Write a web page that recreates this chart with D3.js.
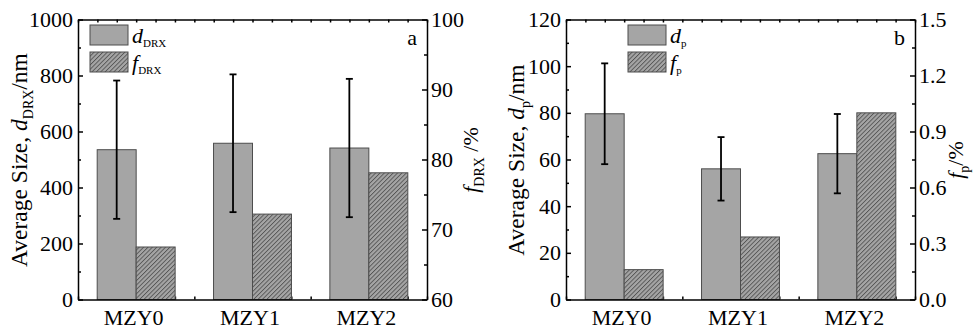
<!DOCTYPE html>
<html>
<head>
<meta charset="utf-8">
<script src="https://cdn.jsdelivr.net/npm/d3@7/dist/d3.min.js"></script>
<style>
  body { margin: 0; background: #fff; }
  svg { display: block; }
</style>
</head>
<body>
<svg id="chart" width="974" height="329"></svg>
<script>
const categories = ["MZY0", "MZY1", "MZY2"]

// panel a: DRX grains
const dDRX = [535, 558, 541]
const dDRXErr = [247, 246, 247]
const fDRX = [67.5, 72.2, 78.1]
const leftTicksA = [0, 200, 400, 600, 800, 1000]
const rightTicksA = [60, 70, 80, 90, 100]

// panel b: precipitates
const dP = [79.6, 56, 62.5]
const dPErr = [21.6, 13.6, 17]
const fP = [0.16, 0.335, 1.0]
const leftTicksB = [0, 20, 40, 60, 80, 100, 120]
const rightTicksB = [0, 0.3, 0.6, 0.9, 1.2, 1.5]

const FONT = "'Liberation Serif', 'Times New Roman', serif"
const svg = d3.select("#chart")
const plotTop = 19.5, plotBottom = 299.5
const barW = 0.335 // in category units
const grey = "#a5a5a5", edge = "#4d4d4d"

const defs = svg.append("defs")
defs.append("pattern")
  .attr("id", "hatch")
  .attr("patternUnits", "userSpaceOnUse")
  .attr("width", 3.1).attr("height", 3.1)
  .attr("patternTransform", "rotate(45)")
  .call(p => {
    p.append("rect").attr("width", 3.1).attr("height", 3.1).attr("fill", grey)
    p.append("line").attr("x1", 0.5).attr("y1", 0).attr("x2", 0.5).attr("y2", 3.1)
      .attr("stroke", "#333").attr("stroke-width", 0.65)
  })

function midpoints(arr) {
  return arr.slice(1).map((v, i) => (v + arr[i]) / 2)
}

function rich(sel, parts, subSize, shift) {
  parts.forEach(p => {
    const t = sel.append("tspan").text(p.t)
    if (p.i) t.attr("font-style", "italic")
    if (p.sub) t.attr("font-size", subSize).attr("dy", shift)
    if (p.after) t.attr("dy", -shift)
  })
}

function drawPanel(cfg) {
  const g = svg.append("g")
  const x = d3.scaleLinear().domain([0.5, 3.5]).range([cfg.left, cfg.right])
  const yL = d3.scaleLinear().domain(d3.extent(cfg.leftTicks)).range([plotBottom, plotTop])
  const yR = d3.scaleLinear().domain(d3.extent(cfg.rightTicks)).range([plotBottom, plotTop])
  const grid = d3.range(19).map(k => 0.5 + k / 6)

  // bottom small ticks (bars sit on top of them)
  g.append("g").attr("transform", `translate(0,${plotBottom})`)
    .call(d3.axisBottom(x).tickValues(grid).tickSize(-3).tickSizeOuter(0).tickFormat(""))
    .call(a => a.select(".domain").remove())
    .call(a => a.selectAll("line").attr("stroke", "#000").attr("stroke-width", 1.5))

  const idx = d3.range(categories.length)

  g.selectAll(".dbar").data(idx).enter().append("rect")
    .attr("x", i => x(i + 1 - barW))
    .attr("width", x(1) - x(1 - barW))
    .attr("y", i => yL(cfg.d[i]))
    .attr("height", i => plotBottom - yL(cfg.d[i]))
    .attr("fill", grey).attr("stroke", edge).attr("stroke-width", 1)

  g.selectAll(".fbar").data(idx).enter().append("rect")
    .attr("x", i => x(i + 1))
    .attr("width", x(1 + barW) - x(1))
    .attr("y", i => yR(cfg.f[i]))
    .attr("height", i => plotBottom - yR(cfg.f[i]))
    .attr("fill", "url(#hatch)").attr("stroke", edge).attr("stroke-width", 1)

  // error bars on d
  const ex = i => x(i + 1 - barW / 2)
  const eb = g.selectAll(".err").data(idx).enter().append("g")
    .attr("stroke", "#000").attr("stroke-width", 1.8)
  eb.append("line")
    .attr("x1", ex).attr("x2", ex)
    .attr("y1", i => yL(cfg.d[i] + cfg.dErr[i]))
    .attr("y2", i => yL(cfg.d[i] - cfg.dErr[i]))
  ;[1, -1].forEach(s => {
    eb.append("line")
      .attr("x1", i => ex(i) - 3.5).attr("x2", i => ex(i) + 3.5)
      .attr("y1", i => yL(cfg.d[i] + s * cfg.dErr[i]))
      .attr("y2", i => yL(cfg.d[i] + s * cfg.dErr[i]))
  })

  // axes
  const styleAxis = a => {
    a.attr("font-family", FONT)
    a.selectAll("path,line").attr("stroke", "#000").attr("stroke-width", 1.5)
    a.selectAll("text").attr("font-size", 22)
  }

  g.append("g").attr("transform", `translate(${cfg.left},0)`)
    .call(d3.axisLeft(yL).tickValues(cfg.leftTicks).tickSize(-5).tickSizeOuter(0).tickPadding(5)
      .tickFormat(cfg.leftFmt))
    .call(styleAxis)
  g.append("g").attr("transform", `translate(${cfg.left},0)`)
    .call(d3.axisLeft(yL).tickValues(midpoints(cfg.leftTicks)).tickSize(-3).tickFormat(""))
    .call(a => a.select(".domain").remove()).call(styleAxis)

  g.append("g").attr("transform", `translate(${cfg.right},0)`)
    .call(d3.axisRight(yR).tickValues(cfg.rightTicks).tickSize(-5).tickSizeOuter(0).tickPadding(4)
      .tickFormat(cfg.rightFmt))
    .call(styleAxis)
  g.append("g").attr("transform", `translate(${cfg.right},0)`)
    .call(d3.axisRight(yR).tickValues(midpoints(cfg.rightTicks)).tickSize(-3).tickFormat(""))
    .call(a => a.select(".domain").remove()).call(styleAxis)

  g.append("g").attr("transform", `translate(0,${plotTop})`)
    .call(d3.axisTop(x).tickValues(grid).tickSize(-3).tickSizeOuter(0).tickFormat(""))
    .call(styleAxis)

  g.append("g").attr("transform", `translate(0,${plotBottom})`)
    .call(d3.axisBottom(x).tickValues([1, 2, 3]).tickSize(0).tickPadding(10)
      .tickFormat(v => categories[v - 1]))
    .call(styleAxis)
    .call(a => a.selectAll("text").attr("dx", -3))

  // titles
  const lt = g.append("text")
    .attr("transform", `translate(${cfg.leftTitleX},160) rotate(-90)`)
    .attr("text-anchor", "middle").attr("font-size", 23.5)
  rich(lt, cfg.leftTitle, 14, 6)

  const rt = g.append("text")
    .attr("transform", `translate(${cfg.rightTitleX},160) rotate(-90)`)
    .attr("text-anchor", "middle").attr("font-size", 22)
  rich(rt, cfg.rightTitle, 14, 6)

  // legend
  const lg = g.append("g").attr("transform", `translate(${cfg.legendX},25)`)
  lg.append("rect").attr("width", 38).attr("height", 20)
    .attr("fill", grey).attr("stroke", edge).attr("stroke-width", 1)
  lg.append("rect").attr("y", 27).attr("width", 38).attr("height", 20)
    .attr("fill", "url(#hatch)").attr("stroke", edge).attr("stroke-width", 1)
  const l1 = lg.append("text").attr("x", 42).attr("y", 18).attr("font-size", 22)
  rich(l1, [{ t: "d", i: true }, { t: cfg.sub, sub: true }], 11, 4)
  const l2 = lg.append("text").attr("x", 42).attr("y", 45).attr("font-size", 22)
  rich(l2, [{ t: "f", i: true }, { t: cfg.sub, sub: true }], 11, 4)

  g.append("text").attr("x", cfg.right - 10).attr("y", 45)
    .attr("text-anchor", "end").attr("font-size", 22).text(cfg.label)
}

drawPanel({
  left: 78, right: 427, label: "a", sub: "DRX", legendX: 90,
  d: dDRX, dErr: dDRXErr, f: fDRX,
  leftTicks: leftTicksA, rightTicks: rightTicksA,
  leftFmt: d3.format("d"), rightFmt: d3.format("d"),
  leftTitleX: 27, rightTitleX: 478,
  leftTitle: [{ t: "Average Size, " }, { t: "d", i: true }, { t: "DRX", sub: true }, { t: "/nm", after: true }],
  rightTitle: [{ t: "f", i: true }, { t: "DRX", sub: true }, { t: " /%", after: true }]
})

drawPanel({
  left: 566, right: 915, label: "b", sub: "p", legendX: 628,
  d: dP, dErr: dPErr, f: fP,
  leftTicks: leftTicksB, rightTicks: rightTicksB,
  leftFmt: d3.format("d"), rightFmt: d3.format(".1f"),
  leftTitleX: 524, rightTitleX: 963,
  leftTitle: [{ t: "Average Size, " }, { t: "d", i: true }, { t: "p", sub: true }, { t: "/nm", after: true }],
  rightTitle: [{ t: "f", i: true }, { t: "p", sub: true }, { t: "/%", after: true }]
})

svg.selectAll("text").style("font-family", FONT).style("fill", "#000")
</script>
</body>
</html>
